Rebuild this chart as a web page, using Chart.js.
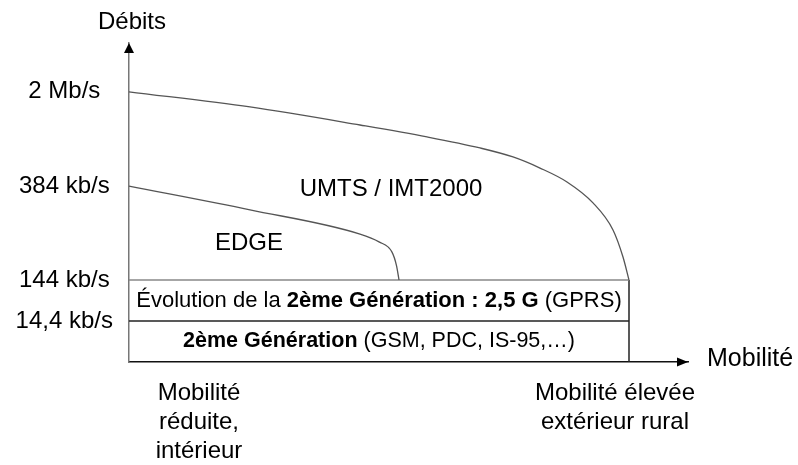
<!DOCTYPE html>
<html><head><meta charset="utf-8">
<script src="https://cdn.jsdelivr.net/npm/chart.js@4.4.1/dist/chart.umd.min.js"></script>
<style>html,body{margin:0;padding:0;background:#fff}</style>
</head><body>
<canvas id="c" width="798" height="465" style="width:798px;height:465px;display:block"></canvas>
<script>
// ---- data (schematic levels) ----
const yTickLevels = [1, 2, 4.29, 6.59];
const yTickLabels = ['14,4 kb/s', '144 kb/s', '384 kb/s', '2 Mb/s'];
const xTickValues = [14, 97.2];
const xTickLabels = [['Mobilité', 'réduite,', 'intérieur'], ['Mobilité élevée', 'extérieur rural']];
const umtsX = [0, 24.2, 46.2, 59.6, 70.2, 76.8, 82.2, 87.6, 92.8, 96.8, 98.8, 100];
const umtsY = [6.59, 6.22, 5.78, 5.49, 5.22, 5.00, 4.73, 4.39, 3.88, 3.22, 2.56, 2.0];
const edgeX = [0, 24.2, 46.2, 50.0, 52.6, 53.5, 54];
const edgeY = [4.29, 3.71, 3.12, 2.93, 2.68, 2.35, 2.0];
const boxX = [0, 100];
const boxLevels = [1, 2];
const regionLabels = ['UMTS / IMT2000', 'EDGE'];
const regionX = [52.4, 24];
const regionY = [4.2, 2.9];
const rowSegments = [
  [['Évolution de la ', false], ['2ème Génération : 2,5 G', true], [' (GPRS)', false]],
  [['2ème Génération', true], [' (GSM, PDC, IS-95,…)', false]]
];
const rowY = [1.5, 0.5];
const axisTitleY = 'Débits';
const axisTitleX = 'Mobilité';

const FONT = "'Liberation Sans', Arial, sans-serif";
const pts = (xs, ys) => xs.map((x, i) => ({x, y: ys[i]}));

const decor = {
  id: 'decor',
  afterDraw(chart) {
    const ctx = chart.ctx, a = chart.chartArea;
    const xs = chart.scales.x, ys = chart.scales.y;
    ctx.save();
    // arrowheads
    ctx.fillStyle = '#000';
    ctx.beginPath();
    ctx.moveTo(a.left, a.top); ctx.lineTo(a.left - 5, a.top + 10); ctx.lineTo(a.left + 5, a.top + 10);
    ctx.closePath(); ctx.fill();
    ctx.beginPath();
    ctx.moveTo(a.right, a.bottom); ctx.lineTo(a.right - 11, a.bottom - 4.5); ctx.lineTo(a.right - 11, a.bottom + 4.5);
    ctx.closePath(); ctx.fill();
    // axis titles
    ctx.fillStyle = '#000';
    ctx.font = '24px ' + FONT;
    ctx.textBaseline = 'middle';
    ctx.textAlign = 'center';
    ctx.fillText(axisTitleY, a.left + 3, a.top - 21);
    ctx.textAlign = 'left';
    ctx.font = '25px ' + FONT;
    ctx.fillText(axisTitleX, a.right + 19, a.bottom - 3);
    // region labels
    ctx.font = '24px ' + FONT;
    ctx.textAlign = 'center';
    regionLabels.forEach((t, i) => {
      ctx.fillText(t, xs.getPixelForValue(regionX[i]), ys.getPixelForValue(regionY[i]));
    });
    // row labels with mixed weight
    ctx.textAlign = 'left';
    const cx = xs.getPixelForValue((boxX[0] + boxX[1]) / 2);
    const sizes = [22, 21.5];
    rowSegments.forEach((segs, r) => {
      let w = 0;
      segs.forEach(([t, b]) => { ctx.font = (b ? 'bold ' : '') + sizes[r] + 'px ' + FONT; w += ctx.measureText(t).width; });
      let x = cx - w / 2;
      const y = ys.getPixelForValue(rowY[r]);
      segs.forEach(([t, b]) => {
        ctx.font = (b ? 'bold ' : '') + sizes[r] + 'px ' + FONT;
        ctx.fillText(t, x, y);
        x += ctx.measureText(t).width;
      });
    });
    ctx.restore();
  }
};

new Chart(document.getElementById('c'), {
  type: 'scatter',
  data: {
    datasets: [
      {label: 'UMTS', data: pts(umtsX, umtsY), showLine: true, borderColor: '#555', borderWidth: 1.3, pointRadius: 0, cubicInterpolationMode: 'monotone', clip: false},
      {label: 'EDGE', data: pts(edgeX, edgeY), showLine: true, borderColor: '#555', borderWidth: 1.3, pointRadius: 0, cubicInterpolationMode: 'monotone', clip: false},
      {label: 'top', data: pts(boxX, [boxLevels[1], boxLevels[1]]), showLine: true, borderColor: '#888', borderWidth: 1.5, pointRadius: 0, tension: 0, clip: false},
      {label: 'mid', data: pts(boxX, [boxLevels[0], boxLevels[0]]), showLine: true, borderColor: '#222', borderWidth: 1.5, pointRadius: 0, tension: 0, clip: false},
      {label: 'right', data: pts([boxX[1], boxX[1]], [0, boxLevels[1]]), showLine: true, borderColor: '#222', borderWidth: 1.5, pointRadius: 0, tension: 0, clip: false}
    ]
  },
  options: {
    responsive: false,
    animation: false,
    devicePixelRatio: 1,
    layout: {padding: {top: 43, right: 110, bottom: 0, left: 0}},
    plugins: {legend: {display: false}, tooltip: {enabled: false}},
    scales: {
      x: {
        type: 'linear', min: 0, max: 111.8,
        grid: {display: false, drawTicks: false},
        border: {display: true, color: '#111', width: 1.5},
        ticks: {font: {family: FONT, size: 24, lineHeight: 1.2}, color: '#000', padding: 17, maxRotation: 0, autoSkip: false,
                callback: (v, i) => xTickLabels[i]},
        afterBuildTicks: s => { s.ticks = xTickValues.map(v => ({value: v})); },
        afterFit: s => { s.height = 103; }
      },
      y: {
        type: 'linear', min: 0, max: 7.78,
        grid: {display: false, drawTicks: false},
        border: {display: true, color: '#777', width: 1.5},
        ticks: {font: {family: FONT, size: 24}, color: '#000', padding: 16, crossAlign: 'center', autoSkip: false,
                callback: (v, i) => yTickLabels[i]},
        afterBuildTicks: s => { s.ticks = yTickLevels.map(v => ({value: v})); },
        afterFit: s => { s.width = 129; }
      }
    }
  },
  plugins: [decor]
});
</script>
</body></html>
